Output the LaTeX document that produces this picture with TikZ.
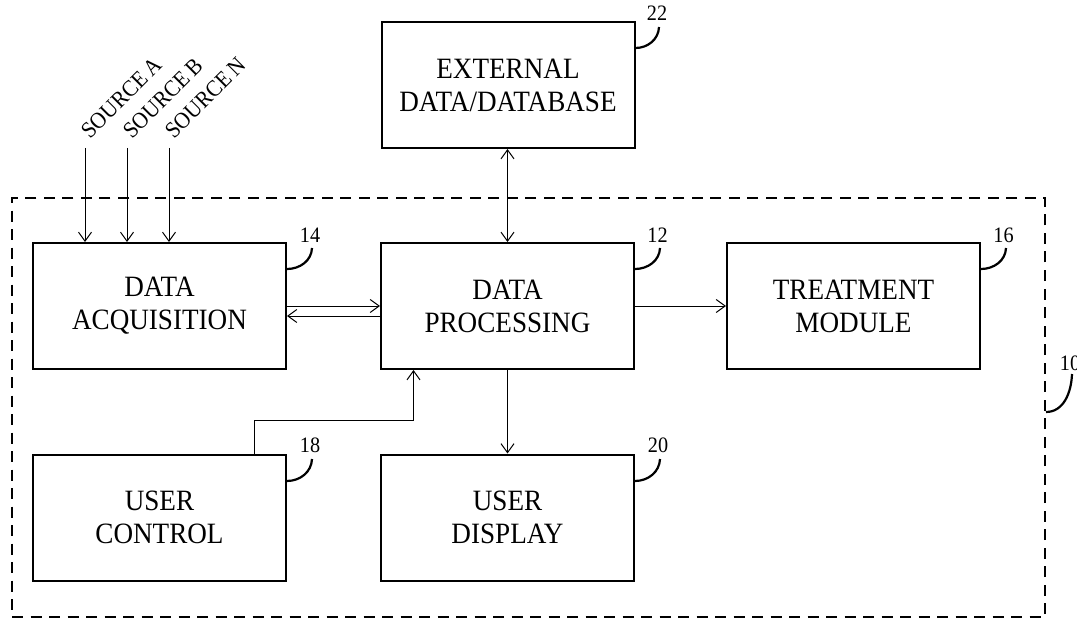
\documentclass[tikz,border=0pt]{standalone}
\usepackage{fontspec}
\setmainfont[FakeStretch=0.92]{Liberation Serif}
\usetikzlibrary{arrows.meta}
\begin{document}
\begin{tikzpicture}[x=1pt,y=-1pt,
  block/.style={draw,line width=2pt,minimum width=253pt,minimum height=126pt,
    align=center,inner sep=0pt,font=\fontsize{29.5}{33}\selectfont},
  arr/.style={line width=1pt,-{Straight Barb[length=9pt,width=13pt]}},
  biarr/.style={line width=1pt,{Straight Barb[length=9pt,width=13pt]}-{Straight Barb[length=9pt,width=13pt]}},
  refnum/.style={font=\fontsize{22}{22}\selectfont,inner sep=0pt},
  leader/.style={line width=2.2pt},
  srclabel/.style={font=\fontsize{23}{23}\selectfont,rotate=45,anchor=base west,inner sep=0pt},
  boundary/.style={draw,line width=2pt,dash pattern=on 11pt off 7.5pt,
    minimum width=1033pt,minimum height=419pt,inner sep=0pt}]
\useasboundingbox (0,0) rectangle (1077,623);

% system boundary
\node[boundary] (sys) at (528.5,407.5) {};

% blocks
\node[block] (ext)   at (508,85)      {EXTERNAL\\DATA/DATABASE};
\node[block] (acq)   at (159.5,306)   {DATA\\ACQUISITION};
\node[block] (proc)  at (507.5,306)   {DATA\\PROCESSING};
\node[block] (treat) at (853.5,306)   {TREATMENT\\MODULE};
\node[block] (ctrl)  at (159.5,517.5) {USER\\CONTROL};
\node[block] (disp)  at (507.5,517.5) {USER\\DISPLAY};

% input sources
\coordinate (srcA) at (85,148);
\coordinate (srcB) at (127,148);
\coordinate (srcN) at (169,148);
\node[srclabel] (labA) at (90,140) {SOURCE A};
\node[srclabel] (labB) at (132,140) {SOURCE B};
\node[srclabel] (labN) at (174,140) {SOURCE N};
\draw[arr] (srcA) -- (srcA |- acq.north);
\draw[arr] (srcB) -- (srcB |- acq.north);
\draw[arr] (srcN) -- (srcN |- acq.north);

% connectors
\draw[arr] (acq.east) -- (proc.west);
\draw[arr] ([yshift=-10pt]proc.west) -- ([yshift=-10pt]acq.east);
\draw[arr] (proc.east) -- (treat.west);
\draw[biarr] (proc.south |- ext.south) -- (proc.north);
\draw[arr] (proc.south) -- (disp.north);
\draw[arr] ([xshift=95pt]ctrl.north) -- ++(0,-33) -| ([xshift=-94pt]proc.south);

% reference numerals
\node[refnum] (n22) at (657,13)    {22};
\node[refnum] (n14) at (310,235.5) {14};
\node[refnum] (n12) at (657.5,235.5) {12};
\node[refnum] (n16) at (1003.5,235.5) {16};
\node[refnum] (n18) at (310,445.5) {18};
\node[refnum] (n20) at (658,445.5) {20};
\node[refnum] (n10) at (1070,363)  {10};
\draw[leader] ([yshift=37pt]ext.east) to[out=0,in=-92] (659,27);
\draw[leader] ([yshift=37pt]acq.east) to[out=0,in=-92] (312,248);
\draw[leader] ([yshift=37pt]proc.east) to[out=0,in=-92] (660,248);
\draw[leader] ([yshift=37pt]treat.east) to[out=0,in=-92] (1006,248);
\draw[leader] ([yshift=36.5pt]ctrl.east) to[out=0,in=-92] (312,459);
\draw[leader] ([yshift=36.5pt]disp.east) to[out=0,in=-92] (660,459);
\draw[leader] ([yshift=-4.5pt]sys.east) to[out=0,in=-92] (1072,374);
\end{tikzpicture}
\end{document}
